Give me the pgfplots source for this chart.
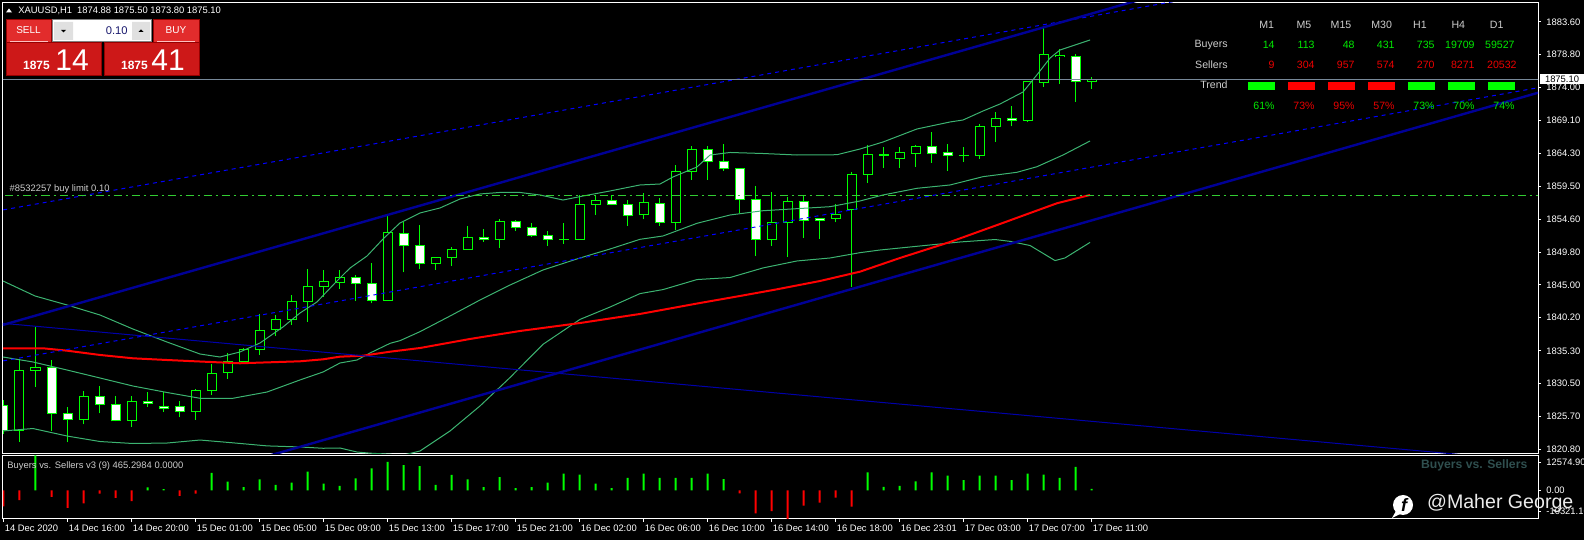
\documentclass[border=0pt]{standalone}
\usepackage{pgfplots}
\pgfplotsset{compat=1.18}
\usepackage{pgfplotstable}
\usepackage{fontspec}
\setmainfont{Liberation Sans}

\definecolor{bull}{RGB}{0,255,0}
\definecolor{bbgreen}{RGB}{60,179,113}
\definecolor{chan}{RGB}{0,0,150}
\definecolor{dotblue}{RGB}{0,0,255}
\definecolor{thinblue}{RGB}{0,0,170}
\definecolor{pricegrey}{RGB}{119,136,153}
\definecolor{limitgreen}{RGB}{50,205,50}
\definecolor{txtgrey}{RGB}{205,205,205}
\definecolor{slate}{RGB}{47,79,79}
\definecolor{tgreen}{RGB}{0,235,0}
\definecolor{tred}{RGB}{235,0,0}
\definecolor{btnred}{RGB}{226,44,44}
\definecolor{boxred}{RGB}{205,24,24}
\definecolor{edgered}{RGB}{150,0,0}

\newcommand\tk{\fontsize{4.7pt}{5pt}\selectfont}
\newcommand\tb{\fontsize{5.3pt}{6pt}\selectfont}

% XAUUSD H1 candles, k = bar number from 14 Dec 12:00
\pgfplotstableread{
k O H L C
0 1827.22 1828.10 1823.11 1823.69
1 1823.69 1834.07 1821.98 1832.46
2 1832.46 1838.82 1830.05 1832.90
3 1832.90 1833.97 1823.55 1826.15
4 1826.15 1827.07 1821.89 1825.26
5 1825.26 1829.42 1824.53 1828.64
6 1828.64 1830.15 1826.15 1827.47
7 1827.47 1828.69 1824.95 1825.02
8 1825.16 1828.69 1824.18 1827.91
9 1827.91 1829.27 1827.11 1827.61
10 1827.17 1829.27 1826.38 1826.88
11 1827.17 1827.95 1825.56 1826.44
12 1826.44 1829.71 1825.21 1829.52
13 1829.46 1833.38 1828.83 1832.02
14 1832.11 1834.96 1831.23 1833.78
15 1833.72 1835.73 1833.53 1835.54
16 1835.54 1840.68 1834.75 1838.33
17 1838.48 1840.58 1837.54 1839.95
18 1839.95 1843.52 1839.15 1842.59
19 1842.59 1847.33 1839.60 1844.79
20 1844.79 1847.19 1843.27 1845.53
21 1845.38 1847.19 1844.44 1846.11
22 1846.11 1846.45 1842.68 1845.23
23 1845.23 1848.21 1842.30 1842.74
24 1842.74 1855.16 1842.70 1852.72
25 1852.58 1854.28 1846.85 1850.81
26 1850.81 1853.79 1847.29 1848.17
27 1848.17 1849.14 1847.19 1849.05
28 1848.99 1850.52 1847.77 1850.23
29 1850.23 1853.65 1850.20 1851.99
30 1851.99 1853.16 1851.34 1851.69
31 1851.69 1854.63 1850.46 1854.34
32 1854.34 1854.53 1852.96 1853.46
33 1853.46 1854.04 1852.08 1852.28
34 1852.28 1852.91 1850.75 1851.69
35 1851.69 1854.09 1851.05 1851.70
36 1851.69 1858.20 1851.65 1856.83
37 1856.83 1858.15 1855.31 1857.42
38 1857.42 1858.15 1856.69 1856.83
39 1856.83 1857.46 1853.69 1855.22
40 1855.36 1858.45 1854.63 1857.13
41 1856.98 1857.71 1853.69 1854.19
42 1854.19 1862.60 1853.06 1861.68
43 1861.68 1865.44 1860.45 1864.91
44 1864.91 1865.44 1860.45 1863.15
45 1863.15 1865.69 1861.77 1862.12
46 1862.12 1862.15 1855.51 1857.51
47 1857.57 1859.52 1849.24 1851.69
48 1851.69 1858.64 1850.75 1854.19
49 1854.19 1857.95 1849.14 1857.27
50 1857.27 1858.10 1851.93 1854.48
51 1854.82 1854.85 1851.78 1854.48
52 1854.78 1856.83 1854.19 1855.36
53 1856.10 1861.53 1844.69 1861.24
54 1861.24 1865.50 1860.00 1864.17
55 1864.07 1865.20 1862.21 1864.08
56 1863.59 1865.20 1862.21 1864.47
57 1864.32 1865.54 1862.35 1865.35
58 1865.35 1867.40 1862.94 1864.32
59 1864.47 1865.64 1861.77 1864.03
60 1864.03 1865.20 1863.09 1864.04
61 1864.03 1868.58 1863.53 1868.29
62 1868.29 1870.39 1866.02 1869.46
63 1869.46 1871.27 1868.29 1869.17
64 1869.17 1874.95 1868.96 1874.89
65 1874.75 1883.01 1874.10 1878.86
66 1878.51 1879.64 1874.54 1878.75
67 1878.56 1878.86 1871.90 1874.89
68 1874.88 1875.50 1873.80 1875.10
}\ohlc

% Buyers vs. Sellers v3 histogram
\pgfplotstableread{
k v
2 12574.9
9 1048
10 393
13 6288
14 3144
15 1179
16 3930
17 1965
18 2751
19 6681
20 2358
21 1572
22 4323
23 7860
24 10218
25 9039
26 8646
27 1965
28 5502
29 3930
30 1179
31 4716
32 786
33 1179
34 2780
35 6030
36 5628
37 2412
38 804
39 4422
40 6030
41 4422
42 4422
43 4422
44 6030
45 4020
54 6432
55 1206
56 1608
57 3216
58 6432
59 5226
60 3618
61 5226
62 5226
63 3618
64 6030
65 5628
66 4422
67 8442
68 465.2984
}\bvsup
\pgfplotstableread{
k v
0 -5764
1 -3537
3 -2358
4 -6288
5 -4716
6 -1179
7 -2751
8 -3930
11 -1965
12 -1179
46 -1072
47 -8308
48 -7504
49 -10321.1
50 -5494
51 -4422
52 -2680
53 -5896
}\bvsdown

\pgfplotsset{
  mtpane/.style={
    scale only axis, width=767.5pt,
    xmin=-0.03125, xmax=95.90625,
    axis background/.style={fill=black},
    axis line style={white, line width=0.5pt},
    tick style={white, line width=0.5pt},
    major tick length=1.5pt, tick align=outside,
    ticklabel style={text=white, font=\tk},
    ytick pos=right, yticklabel pos=right,
    yticklabel style={anchor=west, inner sep=0pt, xshift=2.5pt},
    scaled y ticks=false,
  },
  % candle parts are drawn as error bars: wick, lime outline, body fill
  cpart/.style={draw=none, mark=none, forget plot,
    error bars/.cd, y dir=plus, y explicit, error mark=none,
    error bar style={#1}},
}

\begin{document}
\begin{tikzpicture}
\fill[black] (0,0) rectangle (792pt,270pt);

% ---------- price pane ----------
\begin{axis}[mtpane, at={(1.5pt,43.35pt)}, anchor=south west, height=225.15pt,
  ymin=1820.272, ymax=1886.390,
  xtick=\empty,
  ytick={1883.6,1878.8,1874.0,1869.1,1864.3,1859.5,1854.6,1849.8,1845.0,1840.2,1835.3,1830.5,1825.7,1820.8},
  yticklabels={1883.60,1878.80,1874.00,1869.10,1864.30,1859.50,1854.60,1849.80,1845.00,1840.20,1835.30,1830.50,1825.70,1820.80},
]
% wicks
\addplot[cpart={draw=bull, line width=0.5pt}] table[x=k, y=L, y error expr=\thisrow{H}-\thisrow{L}] {\ohlc};
% body outline (1 px wider than the body on each end)
\addplot[cpart={draw=bull, line width=5pt}] table[x=k, y expr={min(\thisrow{O},\thisrow{C})-0.0734}, y error expr={abs(\thisrow{C}-\thisrow{O})+0.1468}] {\ohlc};
% bull bodies black, bear bodies white
\addplot[cpart={draw=black, line width=4pt}] table[x=k, y expr={min(\thisrow{O},\thisrow{C})+0.0734}, y error expr={max(\thisrow{C}-\thisrow{O}-0.1468,0)}] {\ohlc};
\addplot[cpart={draw=white, line width=4pt}] table[x=k, y expr={min(\thisrow{O},\thisrow{C})+0.0734}, y error expr={max(\thisrow{O}-\thisrow{C}-0.1468,0)}] {\ohlc};
% Bollinger bands
\addplot[bbgreen, line width=0.5pt] coordinates {(-0.03,1845.57) (1.97,1843.37) (3.97,1842.05) (6.03,1840.58) (8.09,1838.52) (10.22,1836.61) (12.28,1834.85) (13.53,1834.41) (14.78,1835.15) (16.03,1836.47) (17.47,1838.82) (18.53,1840.87) (19.59,1842.49) (20.72,1845.28) (21.66,1847.48) (22.72,1849.24) (23.72,1851.74) (24.78,1854.09) (26.03,1855.56) (27.28,1856.29) (28.53,1857.61) (29.78,1858.35) (31.03,1858.57) (32.28,1858.57) (33.53,1858.20) (34.97,1857.46) (36.22,1858.05) (37.91,1858.79) (39.78,1859.67) (41.03,1859.81) (41.84,1860.84) (43.34,1862.31) (44.16,1864.07) (45.41,1864.44) (47.47,1864.29) (49.59,1864.07) (52.09,1864.11) (53.53,1864.95) (54.97,1865.98) (57.09,1867.89) (59.16,1868.92) (59.97,1869.21) (61.22,1870.53) (62.28,1871.56) (63.72,1873.32) (64.59,1875.84) (65.41,1878.31) (66.03,1879.49) (67.91,1880.96)};
\addplot[bbgreen, line width=0.5pt] coordinates {(-0.03,1834.41) (1.84,1833.68) (3.97,1832.50) (6.03,1831.33) (8.09,1830.15) (10.22,1829.20) (12.28,1828.35) (14.34,1828.35) (16.47,1829.27) (18.53,1831.04) (19.97,1832.21) (21.03,1833.53) (22.09,1833.97) (22.91,1835.00) (24.16,1836.42) (24.78,1836.81) (26.03,1838.13) (27.91,1840.43) (29.78,1842.78) (31.66,1844.98) (33.72,1847.19) (36.03,1848.95) (37.91,1850.27) (39.78,1851.69) (41.22,1852.18) (43.34,1854.04) (45.41,1855.26) (47.47,1855.89) (49.59,1856.19) (51.66,1856.48) (53.53,1857.32) (54.97,1858.20) (57.09,1859.18) (59.16,1859.67) (61.22,1860.89) (63.34,1861.53) (64.59,1862.35) (66.22,1864.07) (67.91,1866.13)};
\addplot[bbgreen, line width=0.5pt] coordinates {(-0.03,1823.55) (1.84,1823.91) (3.97,1822.81) (6.03,1822.00) (8.09,1821.71) (10.22,1821.78) (12.28,1822.22) (14.34,1821.81) (16.47,1821.36) (18.53,1821.20) (19.97,1821.01) (21.03,1821.05) (22.09,1820.46) (22.91,1820.29) (24.16,1820.14) (24.78,1819.88) (26.03,1820.61) (27.91,1823.55) (29.78,1827.22) (31.66,1831.40) (33.72,1836.28) (36.03,1839.93) (37.91,1841.75) (39.78,1843.72) (41.22,1844.31) (43.34,1845.78) (45.41,1846.08) (47.47,1847.49) (49.59,1848.51) (51.66,1848.95) (53.53,1849.73) (54.78,1850.12) (57.28,1850.71) (59.78,1851.30) (61.97,1851.66) (62.91,1851.39) (64.16,1850.78) (65.72,1848.57) (66.34,1848.95) (67.91,1851.24)};
% moving average
\addplot[red, line width=1pt] coordinates {(-0.03,1835.69) (2.47,1835.69) (3.97,1835.34) (6.03,1834.71) (8.09,1834.22) (10.22,1833.97) (12.91,1833.68) (14.78,1833.49) (18.53,1833.78) (19.97,1834.07) (21.03,1834.46) (22.47,1834.60) (24.16,1835.19) (26.03,1835.73) (29.16,1837.06) (32.28,1838.23) (36.03,1839.40) (39.78,1840.73) (43.53,1842.34) (46.03,1843.37) (48.34,1844.35) (51.03,1845.57) (53.53,1846.94) (56.03,1848.95) (59.16,1851.30) (62.28,1853.94) (64.16,1855.55) (65.84,1856.98) (67.91,1858.20)};
% trend lines
\addplot[thinblue, line width=0.5pt] coordinates {(-1,1839.56) (100,1818.20)};
\addplot[dotblue, line width=0.5pt, dash pattern=on 2pt off 2pt] coordinates {(-1,1855.60) (80,1889.47)};
\addplot[dotblue, line width=0.5pt, dash pattern=on 2pt off 2pt] coordinates {(-1,1833.43) (100,1875.66)};
\addplot[chan, line width=1.2pt] coordinates {(-1,1838.47) (80,1892.89)};
\addplot[chan, line width=1.2pt] coordinates {(15,1818.85) (100,1875.96)};
% pending order and bid line
\addplot[limitgreen, line width=0.5pt, dash pattern=on 4pt off 2pt on 1pt off 2pt] coordinates {(-1,1858.15) (100,1858.15)};
\addplot[pricegrey, line width=0.5pt] coordinates {(-1,1875.10) (100,1875.10)};
\end{axis}

% ---------- indicator pane ----------
\begin{axis}[mtpane, at={(1.5pt,10.5pt)}, anchor=south west, height=31.85pt,
  ymin=-10321.10, ymax=12574.905,
  xtick={0,4,...,68}, xtick pos=bottom, xticklabel pos=bottom,
  xticklabels={14 Dec 2020,14 Dec 16:00,14 Dec 20:00,15 Dec 01:00,15 Dec 05:00,15 Dec 09:00,15 Dec 13:00,15 Dec 17:00,15 Dec 21:00,16 Dec 02:00,16 Dec 06:00,16 Dec 10:00,16 Dec 14:00,16 Dec 18:00,16 Dec 23:01,17 Dec 03:00,17 Dec 07:00,17 Dec 11:00},
  xticklabel style={anchor=north west, inner sep=0pt, xshift=0.5pt, yshift=-1.4pt},
  ytick={9915,0,-7698}, yticklabels={12574.905,0.00,-10321.10},
]
\addplot[ybar, bar width=1pt, bar shift=0pt, fill=bull, draw=none] table[x=k, y=v] {\bvsup};
\addplot[ybar, bar width=1pt, bar shift=0pt, fill=red, draw=none] table[x=k, y=v] {\bvsdown};
\end{axis}

% ---------- overlays in pixel units ----------
\begin{scope}[shift={(0pt,270pt)}, x=0.5pt, y=-0.5pt]
\fill[white] (6,12.5) -- (12,12.5) -- (9,8.5) -- cycle;
\node[anchor=west, inner sep=0pt, text=white, font=\tk] at (18,10.7) {XAUUSD,H1\hspace{2.5pt}1874.88 1875.50 1873.80 1875.10};
% one click trading panel
\fill[btnred] (6,20) rectangle (51.7,42.7);
\draw[edgered, line width=0.5pt] (6,20) rectangle (51.7,42.7);
\fill[btnred] (153.3,20) rectangle (199,42.7);
\draw[edgered, line width=0.5pt] (153.3,20) rectangle (199,42.7);
\draw[white!75!red, line width=0.5pt] (10,41.2) -- (47.7,41.2) (157,41.2) -- (195,41.2);
\node[text=white, font=\fontsize{5pt}{6pt}\selectfont] at (28.5,30.5) {SELL};
\node[text=white, font=\fontsize{5pt}{6pt}\selectfont] at (176,30.5) {BUY};
\fill[white] (52.3,20) rectangle (151.7,41.7);
\draw[gray, line width=0.5pt] (52.3,20) rectangle (151.7,41.7);
\fill[black!12] (54,22) rectangle (73,40) (132,22) rectangle (150,40);
\fill[black] (61,30) -- (66,30) -- (63.5,32.5) -- cycle;
\fill[black] (138.5,32) -- (143.5,32) -- (141,29.5) -- cycle;
\node[anchor=east, inner sep=0pt, text={rgb,255:red,25;green,25;blue,110}, font=\fontsize{5.6pt}{6pt}\selectfont] at (128,30.5) {0.10};
\fill[boxred] (6,42.7) rectangle (101.7,76);
\draw[edgered, line width=0.5pt] (6,42.7) rectangle (101.7,76);
\fill[boxred] (104,42.7) rectangle (199.3,76);
\draw[edgered, line width=0.5pt] (104,42.7) rectangle (199.3,76);
\node[anchor=south west, inner sep=0pt, text=white, font=\fontsize{6pt}{7pt}\selectfont\bfseries] at (22.7,70.5) {1875};
\node[anchor=south west, inner sep=0pt, text=white, font=\fontsize{15pt}{16pt}\selectfont] at (55,70.5) {14};
\node[anchor=south west, inner sep=0pt, text=white, font=\fontsize{6pt}{7pt}\selectfont\bfseries] at (120.7,70.5) {1875};
\node[anchor=south west, inner sep=0pt, text=white, font=\fontsize{15pt}{16pt}\selectfont] at (151,70.5) {41};
% order label
\node[anchor=west, inner sep=0pt, text=txtgrey, font=\tk] at (9.3,189.3) {\#8532257 buy limit 0.10};
% buyers / sellers table
\foreach \x/\t in {1266.7/M1,1304/M5,1341/M15,1381.7/M30,1420/H1,1458.3/H4,1496.7/D1}
  \node[text=txtgrey, font=\tb, inner sep=0pt] at (\x,25) {\t};
\node[anchor=east, inner sep=0pt, text=txtgrey, font=\tb] at (1228,45) {Buyers};
\node[anchor=east, inner sep=0pt, text=txtgrey, font=\tb] at (1228,65) {Sellers};
\node[anchor=east, inner sep=0pt, text=txtgrey, font=\tb] at (1228,85) {Trend};
\foreach \x/\t in {1275/14,1315/113,1355/48,1395/431,1435/735,1475/19709,1515/59527}
  \node[anchor=east, text=tgreen, font=\tb, inner sep=0pt] at (\x,45) {\t};
\foreach \x/\t in {1275/9,1315/304,1355/957,1395/574,1435/270,1475/8271,1517/20532}
  \node[anchor=east, text=tred, font=\tb, inner sep=0pt] at (\x,65) {\t};
\foreach \x/\c in {1275/bull,1315/red,1355/red,1395/red,1435/bull,1475/bull,1515/bull}
  \fill[\c] (\x-26.7,81.7) rectangle (\x,90);
\foreach \x/\t/\c in {1275/61/tgreen,1315/73/tred,1355/95/tred,1395/57/tred,1435/73/tgreen,1475/70/tgreen,1515/74/tgreen}
  \node[anchor=east, text=\c, font=\tb, inner sep=0pt] at (\x,106) {\t\%};
% current bid box
\fill[white] (1540,74) rectangle (1584,84.5);
\node[text=black, font=\tk, inner sep=0pt] at (1562,79.3) {1875.10};
% indicator captions
\node[anchor=west, inner sep=0pt, text=txtgrey, font=\tk] at (7,466) {Buyers vs. Sellers v3 (9) 465.2984 0.0000};
\node[anchor=east, inner sep=0pt, text=slate, font=\fontsize{6.1pt}{7pt}\selectfont\bfseries] at (1527.7,465.7) {Buyers vs. Sellers};
% watermark
\fill[white] (1403,505) circle (10);
\fill[white] (1396,511) -- (1392,518) -- (1402,513) -- cycle;
\node[text=black, font=\fontsize{9pt}{10pt}\selectfont\bfseries\itshape, inner sep=0pt] at (1404,505) {f};
\node[anchor=west, inner sep=0pt, text=white!92!black, font=\fontsize{9.8pt}{11pt}\selectfont] at (1426.7,503.3) {@Maher George};
\end{scope}
\pgfresetboundingbox
\path[use as bounding box] (0,0) rectangle (792pt,270pt);
\end{tikzpicture}
\end{document}
